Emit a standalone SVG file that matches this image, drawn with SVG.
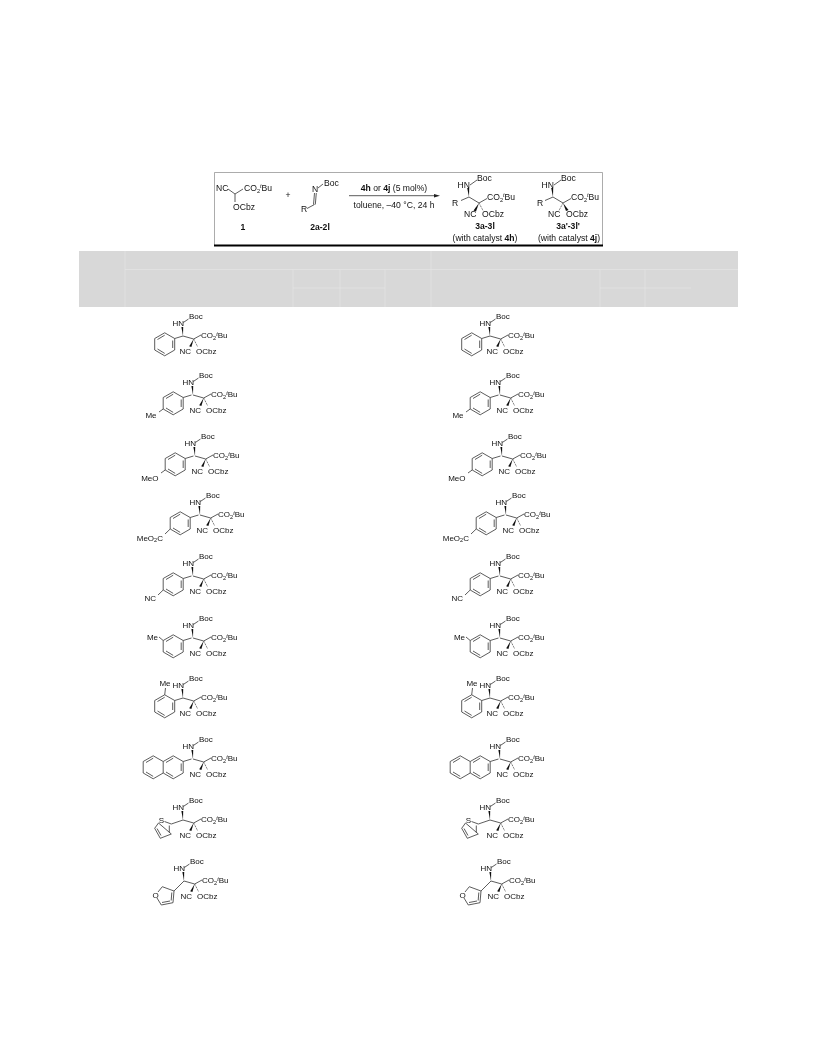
<svg xmlns="http://www.w3.org/2000/svg" width="816" height="1056" viewBox="0 0 816 1056">
<style>
text{font-family:"Liberation Sans",Arial,sans-serif;font-size:8px;fill:#111}
.e{text-anchor:end}.m{text-anchor:middle}.b{font-weight:bold}.h{font-size:8.6px}
.s{font-size:5.6px}.i{font-size:5.6px;font-style:italic}
.l{fill:none;stroke:#333;stroke-width:.8}
.w{fill:#111;stroke:none}
.g{stroke:#e3e3e3;stroke-width:.8;fill:none}
</style>
<defs>
<filter id="soft" filterUnits="userSpaceOnUse" x="0" y="0" width="816" height="1056"><feGaussianBlur stdDeviation="0.32"/></filter>
<g id="core">
<path class="l" d="M0 0L10.700 3L18 -1M.3 -13.500L5.500 -17"/>
<path class="w" d="M0 0L-1.600 -9L.2 -9Z"/>
<path class="w" d="M10.700 3L6.200 10.200L8.400 11Z"/>
<path class="l" stroke-dasharray="1 .8" d="M10.700 3L14.500 10.500"/>
</g>
<g id="ar">
<path class="l" d="M-8.300 2.500L-18.300 -3.200L-28.300 2.500L-28.300 14L-18.300 19.800L-8.300 14ZM-10.300 4.500L-10.300 12M-18.300 -.8L-25.500 3.500M-25.500 13L-18.300 17.400M0 0L-8.300 2.500"/>
</g>
<path id="np" class="l" d="M-28.300 2.500L-38.300 -3.200L-48.300 2.500L-48.300 14L-38.300 19.800L-28.300 14M-38.300 -.8L-45.500 3.500M-45.500 13L-38.300 17.400"/>
<path id="th" class="l" d="M0 0L-11.700 4L-18.500 1.500M-24.500 3L-28.300 8.300L-22.700 18.300L-11.700 14ZM-13.700 5.500L-13.700 12.500M-26 8.500L-22 15.500"/>
<path id="fu" class="l" d="M0 0L-10 10L-21.700 5.700L-26 11M-27 17L-22.700 24L-11 21.700L-10 10M-12.200 11.500L-12.800 19.500M-22 21.500L-14 20"/>
</defs>
<g id="page" filter="url(#soft)">
<rect id="table-head" x="79" y="251" width="659" height="56" fill="#d8d8d8"/>
<g id="table-lines">
<path class="g" d="M125 251V307M125 269.500H738M293 269.500V307M340 269.500V307M385 269.500V307M431 251V307M600 269.500V307M645 269.500V307M293 288H385M600 288H691"/>
</g>
<g id="scheme-box">
<path d="M214.500 246V172.500H602.500V246" fill="none" stroke="#888" stroke-width=".7"/>
<path d="M214 245.500H603" stroke="#000" stroke-width="2"/>
</g>
<g id="reagent-1">
<path class="l" d="M228 189L235 194L243 189M235 194V202"/>
<text class="h" x="216" y="191">NC</text>
<text class="h" x="244" y="191">CO<tspan class="s" dy="1.500">2</tspan><tspan class="i" dy="-4.500">t</tspan><tspan dy="3">Bu</tspan></text>
<text class="h" x="233" y="210">OCbz</text>
<text class="h b m" x="243" y="230">1</text>
</g>
<text id="plus" class="h m" x="288" y="198">+</text>
<g id="reagent-2">
<path class="l" d="M318 188L323 184M314.500 193L313.500 204.500M316.300 193L315.300 204.500M314.500 204.500L307 208.500"/>
<text class="h m" x="315" y="192">N</text>
<text class="h" x="324" y="186">Boc</text>
<text class="h m" x="304" y="212">R</text>
<text class="h b m" x="320" y="230">2a-2l</text>
</g>
<g id="arrow">
<path d="M349 195.700H436" stroke="#333" stroke-width=".8"/>
<path d="M440 195.700L434 194V197.400Z" fill="#222"/>
<text class="h m" x="394" y="191"><tspan class="b">4h</tspan> or <tspan class="b">4j</tspan> (5 mol%)</text>
<text class="h m" x="394" y="208">toluene, –40 °C, 24 h</text>
</g>
<g id="product-3a" transform="translate(469,197)">
<path class="l" d="M0 0L10 6L18 1.500M1 -12L8 -17M0 0L-8 3.500"/>
<path class="w" d="M0 0L-1.800 -9L.2 -9Z"/>
<path class="w" d="M10 6L4.500 13.500L7 14.500Z"/>
<path class="l" stroke-dasharray="1 .8" d="M10 6L14 13.500"/>
<text class="h e" x="1" y="-9">HN</text>
<text class="h" x="8" y="-16.500">Boc</text>
<text class="h" x="18" y="3">CO<tspan class="s" dy="1.500">2</tspan><tspan class="i" dy="-4.500">t</tspan><tspan dy="3">Bu</tspan></text>
<text class="h m" x="-14" y="9">R</text>
<text class="h" x="-5" y="20">NC</text>
<text class="h" x="13" y="20">OCbz</text>
<text class="h b m" x="16" y="32">3a-3l</text>
<text class="h m" x="16" y="44">(with catalyst <tspan class="b">4h</tspan>)</text>
</g>
<g id="product-3b" transform="translate(553,197)">
<path class="l" d="M0 0L10 6L18 1.500M1 -12L8 -17M0 0L-8 3.500"/>
<path class="w" d="M0 0L-1.800 -9L.2 -9Z"/>
<path class="w" d="M10 6L13 14L15.500 13Z"/>
<path class="l" stroke-dasharray="1 .8" d="M10 6L6 13.500"/>
<text class="h e" x="1" y="-9">HN</text>
<text class="h" x="8" y="-16.500">Boc</text>
<text class="h" x="18" y="3">CO<tspan class="s" dy="1.500">2</tspan><tspan class="i" dy="-4.500">t</tspan><tspan dy="3">Bu</tspan></text>
<text class="h m" x="-13" y="9">R</text>
<text class="h" x="-5" y="20">NC</text>
<text class="h" x="13" y="20">OCbz</text>
<text class="h b m" x="15" y="32">3a'-3l'</text>
<text class="h m" x="16" y="44">(with catalyst <tspan class="b">4j</tspan>)</text>
</g>
<g id="L1" transform="translate(183,336)"><use href="#core"/><use href="#ar"/><text class="e" x="1" y="-10">HN</text><text x="6" y="-17">Boc</text><text x="18" y="2">CO<tspan class="s" dy="1.500">2</tspan><tspan class="i" dy="-4">t</tspan><tspan dy="2.500">Bu</tspan></text><text x="-3.500" y="18">NC</text><text x="13" y="18">OCbz</text></g>
<g id="L2" transform="translate(193,395)"><use href="#core"/><use href="#ar" x="-1.500"/><path class="l" d="M-29.800 14L-34 17"/><text class="e" x="1" y="-10">HN</text><text x="6" y="-17">Boc</text><text x="18" y="2">CO<tspan class="s" dy="1.500">2</tspan><tspan class="i" dy="-4">t</tspan><tspan dy="2.500">Bu</tspan></text><text x="-3.500" y="18">NC</text><text x="13" y="18">OCbz</text><text class="e" x="-36.500" y="23">Me</text></g>
<g id="L3" transform="translate(195,456)"><use href="#core"/><use href="#ar" x="-1.500"/><path class="l" d="M-29.800 14L-34 17"/><text class="e" x="1" y="-10">HN</text><text x="6" y="-17">Boc</text><text x="18" y="2">CO<tspan class="s" dy="1.500">2</tspan><tspan class="i" dy="-4">t</tspan><tspan dy="2.500">Bu</tspan></text><text x="-3.500" y="18">NC</text><text x="13" y="18">OCbz</text><text class="e" x="-36.500" y="24.500">MeO</text></g>
<g id="L4" transform="translate(200,515)"><use href="#core"/><use href="#ar" x="-1.500"/><path class="l" d="M-29.800 14L-35 19"/><text class="e" x="1" y="-10">HN</text><text x="6" y="-17">Boc</text><text x="18" y="2">CO<tspan class="s" dy="1.500">2</tspan><tspan class="i" dy="-4">t</tspan><tspan dy="2.500">Bu</tspan></text><text x="-3.500" y="18">NC</text><text x="13" y="18">OCbz</text><text class="e" x="-37" y="25.500">MeO<tspan class="s" dy="1.500">2</tspan><tspan dy="-1.500">C</tspan></text></g>
<g id="L5" transform="translate(193,576)"><use href="#core"/><use href="#ar" x="-1.500"/><path class="l" d="M-29.800 14L-35 19"/><text class="e" x="1" y="-10">HN</text><text x="6" y="-17">Boc</text><text x="18" y="2">CO<tspan class="s" dy="1.500">2</tspan><tspan class="i" dy="-4">t</tspan><tspan dy="2.500">Bu</tspan></text><text x="-3.500" y="18">NC</text><text x="13" y="18">OCbz</text><text class="e" x="-37" y="25">NC</text></g>
<g id="L6" transform="translate(193,638)"><use href="#core"/><use href="#ar" x="-1.500"/><path class="l" d="M-29.800 2.500L-34 -1"/><text class="e" x="1" y="-10">HN</text><text x="6" y="-17">Boc</text><text x="18" y="2">CO<tspan class="s" dy="1.500">2</tspan><tspan class="i" dy="-4">t</tspan><tspan dy="2.500">Bu</tspan></text><text x="-3.500" y="18">NC</text><text x="13" y="18">OCbz</text><text class="e" x="-35" y="1.500">Me</text></g>
<g id="L7" transform="translate(183,698)"><use href="#core"/><use href="#ar"/><path class="l" d="M-18.300 -3.200L-17.500 -10"/><text class="e" x="1" y="-10">HN</text><text x="6" y="-17">Boc</text><text x="18" y="2">CO<tspan class="s" dy="1.500">2</tspan><tspan class="i" dy="-4">t</tspan><tspan dy="2.500">Bu</tspan></text><text x="-3.500" y="18">NC</text><text x="13" y="18">OCbz</text><text class="m" x="-18" y="-12">Me</text></g>
<g id="L8" transform="translate(193,759)"><use href="#core"/><use href="#ar" x="-1.500"/><use href="#np" x="-1.500"/><text class="e" x="1" y="-10">HN</text><text x="6" y="-17">Boc</text><text x="18" y="2">CO<tspan class="s" dy="1.500">2</tspan><tspan class="i" dy="-4">t</tspan><tspan dy="2.500">Bu</tspan></text><text x="-3.500" y="18">NC</text><text x="13" y="18">OCbz</text></g>
<g id="L9" transform="translate(183,820)"><use href="#core"/><use href="#th"/><text class="e" x="1" y="-10">HN</text><text x="6" y="-17">Boc</text><text x="18" y="2">CO<tspan class="s" dy="1.500">2</tspan><tspan class="i" dy="-4">t</tspan><tspan dy="2.500">Bu</tspan></text><text x="-3.500" y="18">NC</text><text x="13" y="18">OCbz</text><text class="m" x="-21.500" y="2.800">S</text></g>
<g id="L10" transform="translate(184,881)"><use href="#core"/><use href="#fu"/><text class="e" x="1" y="-10">HN</text><text x="6" y="-17">Boc</text><text x="18" y="2">CO<tspan class="s" dy="1.500">2</tspan><tspan class="i" dy="-4">t</tspan><tspan dy="2.500">Bu</tspan></text><text x="-3.500" y="18">NC</text><text x="13" y="18">OCbz</text><text class="m" x="-28.300" y="17">O</text></g>
<g id="R1" transform="translate(490,336)"><use href="#core"/><use href="#ar"/><text class="e" x="1" y="-10">HN</text><text x="6" y="-17">Boc</text><text x="18" y="2">CO<tspan class="s" dy="1.500">2</tspan><tspan class="i" dy="-4">t</tspan><tspan dy="2.500">Bu</tspan></text><text x="-3.500" y="18">NC</text><text x="13" y="18">OCbz</text></g>
<g id="R2" transform="translate(500,395)"><use href="#core"/><use href="#ar" x="-1.500"/><path class="l" d="M-29.800 14L-34 17"/><text class="e" x="1" y="-10">HN</text><text x="6" y="-17">Boc</text><text x="18" y="2">CO<tspan class="s" dy="1.500">2</tspan><tspan class="i" dy="-4">t</tspan><tspan dy="2.500">Bu</tspan></text><text x="-3.500" y="18">NC</text><text x="13" y="18">OCbz</text><text class="e" x="-36.500" y="23">Me</text></g>
<g id="R3" transform="translate(502,456)"><use href="#core"/><use href="#ar" x="-1.500"/><path class="l" d="M-29.800 14L-34 17"/><text class="e" x="1" y="-10">HN</text><text x="6" y="-17">Boc</text><text x="18" y="2">CO<tspan class="s" dy="1.500">2</tspan><tspan class="i" dy="-4">t</tspan><tspan dy="2.500">Bu</tspan></text><text x="-3.500" y="18">NC</text><text x="13" y="18">OCbz</text><text class="e" x="-36.500" y="24.500">MeO</text></g>
<g id="R4" transform="translate(506,515)"><use href="#core"/><use href="#ar" x="-1.500"/><path class="l" d="M-29.800 14L-35 19"/><text class="e" x="1" y="-10">HN</text><text x="6" y="-17">Boc</text><text x="18" y="2">CO<tspan class="s" dy="1.500">2</tspan><tspan class="i" dy="-4">t</tspan><tspan dy="2.500">Bu</tspan></text><text x="-3.500" y="18">NC</text><text x="13" y="18">OCbz</text><text class="e" x="-37" y="25.500">MeO<tspan class="s" dy="1.500">2</tspan><tspan dy="-1.500">C</tspan></text></g>
<g id="R5" transform="translate(500,576)"><use href="#core"/><use href="#ar" x="-1.500"/><path class="l" d="M-29.800 14L-35 19"/><text class="e" x="1" y="-10">HN</text><text x="6" y="-17">Boc</text><text x="18" y="2">CO<tspan class="s" dy="1.500">2</tspan><tspan class="i" dy="-4">t</tspan><tspan dy="2.500">Bu</tspan></text><text x="-3.500" y="18">NC</text><text x="13" y="18">OCbz</text><text class="e" x="-37" y="25">NC</text></g>
<g id="R6" transform="translate(500,638)"><use href="#core"/><use href="#ar" x="-1.500"/><path class="l" d="M-29.800 2.500L-34 -1"/><text class="e" x="1" y="-10">HN</text><text x="6" y="-17">Boc</text><text x="18" y="2">CO<tspan class="s" dy="1.500">2</tspan><tspan class="i" dy="-4">t</tspan><tspan dy="2.500">Bu</tspan></text><text x="-3.500" y="18">NC</text><text x="13" y="18">OCbz</text><text class="e" x="-35" y="1.500">Me</text></g>
<g id="R7" transform="translate(490,698)"><use href="#core"/><use href="#ar"/><path class="l" d="M-18.300 -3.200L-17.500 -10"/><text class="e" x="1" y="-10">HN</text><text x="6" y="-17">Boc</text><text x="18" y="2">CO<tspan class="s" dy="1.500">2</tspan><tspan class="i" dy="-4">t</tspan><tspan dy="2.500">Bu</tspan></text><text x="-3.500" y="18">NC</text><text x="13" y="18">OCbz</text><text class="m" x="-18" y="-12">Me</text></g>
<g id="R8" transform="translate(500,759)"><use href="#core"/><use href="#ar" x="-1.500"/><use href="#np" x="-1.500"/><text class="e" x="1" y="-10">HN</text><text x="6" y="-17">Boc</text><text x="18" y="2">CO<tspan class="s" dy="1.500">2</tspan><tspan class="i" dy="-4">t</tspan><tspan dy="2.500">Bu</tspan></text><text x="-3.500" y="18">NC</text><text x="13" y="18">OCbz</text></g>
<g id="R9" transform="translate(490,820)"><use href="#core"/><use href="#th"/><text class="e" x="1" y="-10">HN</text><text x="6" y="-17">Boc</text><text x="18" y="2">CO<tspan class="s" dy="1.500">2</tspan><tspan class="i" dy="-4">t</tspan><tspan dy="2.500">Bu</tspan></text><text x="-3.500" y="18">NC</text><text x="13" y="18">OCbz</text><text class="m" x="-21.500" y="2.800">S</text></g>
<g id="R10" transform="translate(491,881)"><use href="#core"/><use href="#fu"/><text class="e" x="1" y="-10">HN</text><text x="6" y="-17">Boc</text><text x="18" y="2">CO<tspan class="s" dy="1.500">2</tspan><tspan class="i" dy="-4">t</tspan><tspan dy="2.500">Bu</tspan></text><text x="-3.500" y="18">NC</text><text x="13" y="18">OCbz</text><text class="m" x="-28.300" y="17">O</text></g>
</g>
</svg>
